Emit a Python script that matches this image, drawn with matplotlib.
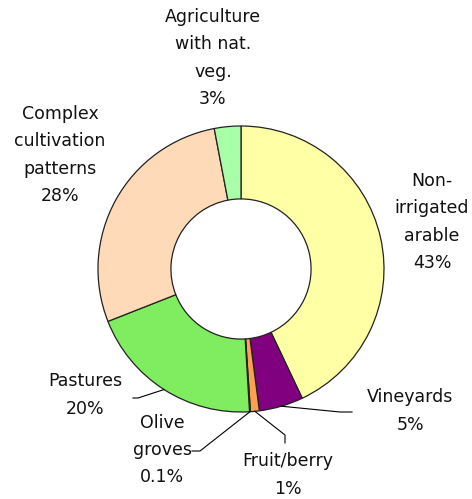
import numpy as np
import matplotlib as mpl
mpl.use("Agg")
import matplotlib.pyplot as plt

CATEGORIES = [
    "Non-\nirrigated\narable",
    "Vineyards",
    "Fruit/berry",
    "Olive\ngroves",
    "Pastures",
    "Complex\ncultivation\npatterns",
    "Agriculture\nwith nat.\nveg.",
]
SHARES = [43, 5, 1, 0.1, 20, 28, 3]
SHARE_LABELS = ["43%", "5%", "1%", "0.1%", "20%", "28%", "3%"]
COLORS = ["#FFFFA6", "#800080", "#FFA050", "#7FA060", "#80EC60", "#FFDAB8", "#A8FFA8"]

# figure geometry (pixels)
W, H = 472, 499
CX, CY, R = 241, 269, 143


def px(x, y):
    return (x - CX) / R, (CY - y) / R


# label centres in pixels, and leader-line elbow points (None = no leader)
LABEL_POS = [(432, 222), (410, 411), (288, 475), (162, 450), (85, 395), (60, 155), (213, 58)]
LEADERS = [
    None,
    [(340, 412), (352, 412)],
    [(285, 435), (285, 443)],
    [(200, 451), (192, 451)],
    [(138, 398), (133, 398)],
    None,
    None,
]


def main():
    fig = plt.figure(figsize=(W / 100, H / 100), dpi=100)
    ax = fig.add_axes([0, 0, 1, 1])

    wedges, _ = ax.pie(
        SHARES,
        colors=COLORS,
        startangle=90,
        counterclock=False,
        radius=1.0,
        wedgeprops=dict(width=0.51, edgecolor="#222222", linewidth=0.9),
    )

    for i, (cat, lab) in enumerate(zip(CATEGORIES, SHARE_LABELS)):
        lx, ly = px(*LABEL_POS[i])
        ax.text(lx, ly, f"{cat}\n{lab}", ha="center", va="center",
                fontsize=12.5, linespacing=1.66, color="#111111")
        if LEADERS[i] is not None:
            w = wedges[i]
            mid = np.deg2rad((w.theta1 + w.theta2) / 2)
            pts = [(np.cos(mid), np.sin(mid))] + [px(*p) for p in LEADERS[i]]
            xs, ys = zip(*pts)
            ax.plot(xs, ys, color="black", lw=0.8)

    x0, y1 = px(0, 0)
    x1, y0 = px(W, H)
    ax.set_aspect("auto")
    ax.set_xlim(x0, x1)
    ax.set_ylim(y0, y1)
    ax.axis("off")

    fig.savefig("out.png", dpi=100)


if __name__ == "__main__":
    main()
